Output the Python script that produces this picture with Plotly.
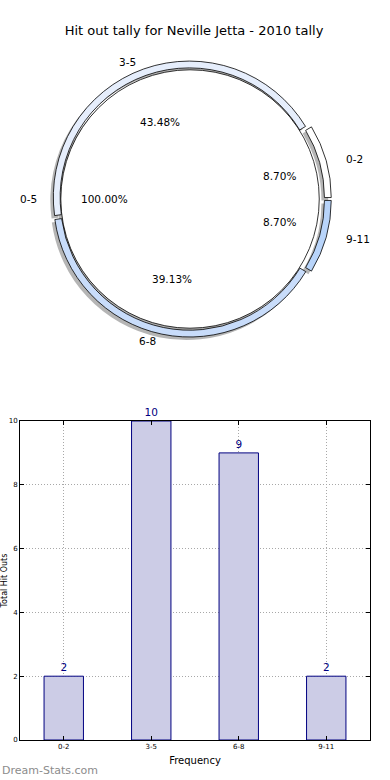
import math
import plotly.graph_objects as go

# ---------------- data ----------------
title_text = "Hit out tally for Neville Jetta - 2010 tally"
categories = ["0-2", "3-5", "6-8", "9-11"]
counts = [2, 10, 9, 2]
inner_label = "0-5"
ring_colors = ["#ffffff", "#e6eefc", "#c8dcfa", "#b8d4fa"]
ring_pulls = [0.04, 0.015, 0.015, 0.04]
y_ticks = [0, 2, 4, 6, 8, 10]
x_title = "Frequency"
y_title = "Total Hit Outs"
watermark = "Dream-Stats.com"

# ---------------- geometry / style ----------------
W, H = 390, 780
cx, cy = 190, 199                  # pie centre (page px)
R_out = 136                        # un-pulled outer radius of ring (px)
hole = 0.95
R_in = R_out * hole
max_pull = max(ring_pulls)
FONT = "DejaVu Sans"
total = sum(counts)


def PX(x):
    return x / W


def PY(y):
    return 1 - y / H


def dom(r, dx=0, dy=0):
    return dict(x=[PX(cx + dx - r), PX(cx + dx + r)],
                y=[PY(cy + dy + r), PY(cy + dy - r)])


# plotly lays counterclockwise slices so that the first one ends at `rotation`;
# shift so that the first slice starts at 3 o'clock
ring_rotation = 90 - 360.0 * counts[0] / total

fig = go.Figure()

# shadows (offset down-left)
shadow = "rgba(60,60,60,0.38)"
fig.add_trace(go.Pie(values=[total], labels=[inner_label], sort=False,
                     domain=dom(R_in, -3, 3), marker=dict(colors=[shadow], line=dict(width=0)),
                     textinfo="none", hoverinfo="skip", showlegend=False))
fig.add_trace(go.Pie(values=counts, labels=categories, sort=False, direction="counterclockwise",
                     rotation=ring_rotation, hole=hole, pull=ring_pulls,
                     domain=dom(R_out * (1 + max_pull), -3, 3),
                     marker=dict(colors=[shadow] * len(counts), line=dict(width=0)),
                     textinfo="none", hoverinfo="skip", showlegend=False))

# inner full disk
fig.add_trace(go.Pie(values=[total], labels=[inner_label], sort=False,
                     domain=dom(R_in), marker=dict(colors=["#ffffff"], line=dict(color="#000000", width=0.8)),
                     textinfo="none", hoverinfo="label+percent", showlegend=False))
# outer ring
fig.add_trace(go.Pie(values=counts, labels=categories, sort=False, direction="counterclockwise",
                     rotation=ring_rotation, hole=hole, pull=ring_pulls,
                     domain=dom(R_out * (1 + max_pull)),
                     marker=dict(colors=ring_colors, line=dict(color="#000000", width=0.8)),
                     textinfo="none", hoverinfo="label+percent", showlegend=False))

annotations = []


def add_pie_text(angle_deg, lab, pct, lab_rx, lab_ry, pct_rx, pct_ry, off):
    a = math.radians(angle_deg)
    c, s = math.cos(a), math.sin(a)
    lx = cx + (lab_rx + off) * c
    ly = cy - (lab_ry + off) * s
    annotations.append(dict(x=PX(lx), y=PY(ly), xref="paper", yref="paper", text=lab,
                            showarrow=False, xanchor="left" if c > 0 else "right", yanchor="middle",
                            font=dict(family=FONT, size=10.5, color="#000000")))
    px = cx + (pct_rx + off) * c
    py = cy - (pct_ry + off) * s
    annotations.append(dict(x=PX(px), y=PY(py), xref="paper", yref="paper", text=pct,
                            showarrow=False, xanchor="center", yanchor="middle",
                            font=dict(family=FONT, size=10.5, color="#000000")))


# inner pie text (single slice, mid-angle 180)
add_pie_text(180, inner_label, "%.2f%%" % 100.0, 151, 141, 86, 77, 0)
# ring text
start = 0.0
for cat, v, p in zip(categories, counts, ring_pulls):
    span = 360.0 * v / total
    mid = start + span / 2
    add_pie_text(mid, cat, "%.2f%%" % (100.0 * v / total), 154, 143, 88, 80, p * R_out)
    start += span

# ---------------- bar chart ----------------
fig.add_trace(go.Bar(x=categories, y=counts, width=0.45,
                     marker=dict(color="#ccccE6", line=dict(color="#000080", width=1)),
                     text=[str(c) for c in counts], textposition="outside",
                     textfont=dict(family=FONT, size=10.5, color="#000080"),
                     cliponaxis=False, hoverinfo="x+y", showlegend=False))

annotations.append(dict(x=PX(0), y=PY(770), xref="paper", yref="paper", text=watermark,
                        showarrow=False, xanchor="left", yanchor="middle",
                        font=dict(family=FONT, size=11, color="#8c8c8c")))

axis_common = dict(showline=True, linecolor="#000000", linewidth=1, mirror="ticks",
                   ticks="inside", ticklen=4, tickcolor="#000000",
                   showgrid=True, gridcolor="#a8a8a8", griddash="1px,2px", gridwidth=1,
                   zeroline=False, automargin=False,
                   tickfont=dict(family=FONT, size=7, color="#000000"))

fig.update_layout(
    width=W, height=H,
    margin=dict(l=0, r=0, t=0, b=0),
    paper_bgcolor="#ffffff", plot_bgcolor="#ffffff",
    showlegend=False,
    title=dict(text=title_text, x=PX(194), xref="paper", xanchor="center",
               y=PY(30), yref="paper", yanchor="middle",
               font=dict(family=FONT, size=13, color="#000000")),
    xaxis=dict(domain=[PX(20), PX(370)], type="category", range=[-0.5, 3.5],
               title=dict(text=x_title, standoff=6, font=dict(family=FONT, size=10, color="#000000")),
               **axis_common),
    yaxis=dict(domain=[PY(740), PY(421)], range=[0, 10], tickvals=y_ticks,
               title=dict(text=y_title, standoff=10, font=dict(family=FONT, size=8, color="#000000")),
               **axis_common),
    annotations=annotations,
    font=dict(family=FONT),
)

fig.write_html("out.html", config={"displayModeBar": False},
               post_script="document.body.style.margin='0';document.body.style.padding='0';")
